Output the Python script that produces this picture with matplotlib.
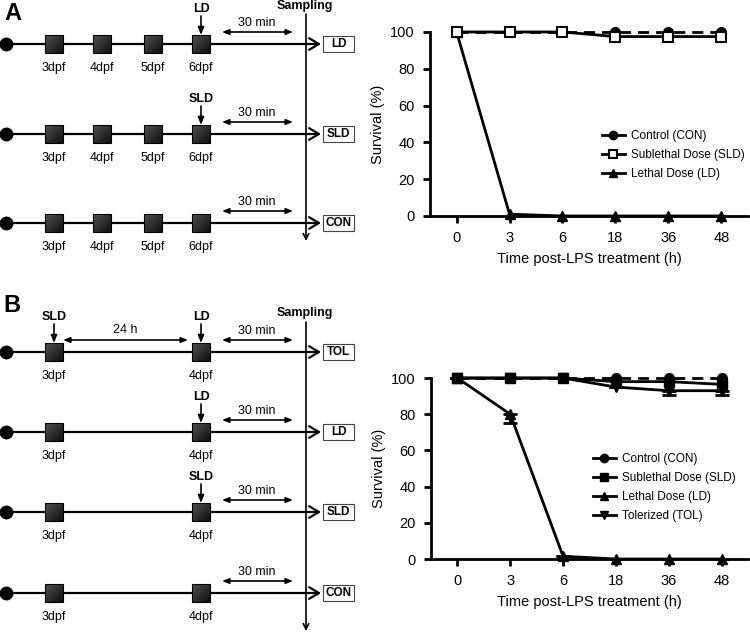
import matplotlib.pyplot as plt
import numpy as np
from matplotlib.patches import Rectangle
from matplotlib.lines import Line2D

plt.rcParams['font.family'] = ['Liberation Sans', 'DejaVu Sans']

# survival curves
temps = ['0', '3', '6', '18', '36', '48']
a_con = [100, 100, 100, 100, 100, 100]
a_sld = [100, 100, 100, 97.5, 97.5, 97.5]
a_ld = [100, 1, 0, 0, 0, 0]

b_con = [100, 100, 100, 100, 100, 100]
b_sld = [100, 100, 100, 98, 98, 96.5]
b_ld = [100, 80, 1.5, 0, 0, 0]
b_ld_err = [0, 5, 0, 0, 0, 0]
b_tol = [100, 100, 100, 95, 93, 93]
b_tol_err = [0, 0, 0, 0, 2.5, 2.5]

# schematic labels
a_jours = ['3dpf', '4dpf', '5dpf', '6dpf']
a_groupes = ['LD', 'SLD', 'CON']
a_doses = ['LD', 'SLD', '']
b_jours = ['3dpf', '4dpf']
b_groupes = ['TOL', 'LD', 'SLD', 'CON']
b_dose1 = ['SLD', '', '', '']
b_dose2 = ['LD', 'LD', 'SLD', '']

fig = plt.figure(figsize=(7.5, 6.33), dpi=100)
sk = fig.add_axes([0, 0, 1, 1])
sk.set_xlim(0, 750)
sk.set_ylim(633, 0)
sk.axis('off')

FS = 9

# shading for the day boxes
g = np.linspace(0, 1, 20)
degrade = 0.32 - 0.26 * (g[None, :] + g[:, None]) / 2


def fleche(x0, y0, x1, y1, style, ms=10, lw=1.2):
    sk.annotate('', xy=(x1, y1), xytext=(x0, y0),
                arrowprops=dict(arrowstyle=style, lw=lw, color='k',
                                shrinkA=0, shrinkB=0, mutation_scale=ms))


def ligne(y, xs, jours, doses, groupe, intervalle=None):
    fleche(6, y, 321, y, '->,head_length=0.5,head_width=0.3', ms=14, lw=1.6)
    sk.plot([6], [y], 'o', color='k', ms=9)
    for x, j, d in zip(xs, jours, doses):
        sk.imshow(degrade, cmap='gray', vmin=0, vmax=1, extent=(x - 9, x + 9, y + 9, y - 9),
                  zorder=3, interpolation='bilinear')
        sk.add_patch(Rectangle((x - 9, y - 9), 18, 18, fc='none', ec='k', lw=0.8, zorder=4))
        sk.text(x, y + 24, j, ha='center', va='center', fontsize=FS)
        if d:
            sk.text(x, y - 35, d, ha='center', va='center', fontsize=FS, fontweight='bold')
            fleche(x, y - 28, x, y - 9, '-|>,head_length=0.5,head_width=0.2', ms=9)
    if intervalle:
        sk.text(125, y - 22, intervalle, ha='center', va='center', fontsize=FS)
        fleche(63, y - 12, 188, y - 12, '<|-|>,head_length=0.5,head_width=0.2', ms=8)
    sk.text(257, y - 21, '30 min', ha='center', va='center', fontsize=FS)
    fleche(222, y - 12, 293, y - 12, '<|-|>,head_length=0.5,head_width=0.2', ms=8)
    sk.add_patch(Rectangle((323, y - 8), 31, 16, fc='white', ec='#444444', lw=0.8))
    sk.text(338.5, y, groupe, ha='center', va='center', fontsize=8.5, fontweight='bold')


# panel A schematic
sk.text(13, 14, 'A', ha='center', va='center', fontsize=17, fontweight='bold')
sk.text(305, 6, 'Sampling', ha='center', va='center', fontsize=9, fontweight='bold')
fleche(306, 14, 306, 241, '->,head_length=0.4,head_width=0.2', ms=10)
for y, gr, d in zip([44, 134, 223], a_groupes, a_doses):
    ligne(y, [54, 102, 153, 201], a_jours, ['', '', '', d], gr)

# panel B schematic
sk.text(12, 305, 'B', ha='center', va='center', fontsize=17, fontweight='bold')
sk.text(305, 313, 'Sampling', ha='center', va='center', fontsize=9, fontweight='bold')
fleche(306, 322, 306, 631, '->,head_length=0.4,head_width=0.2', ms=10)
for i, (y, gr) in enumerate(zip([352, 432, 512, 593], b_groupes)):
    ligne(y, [54, 201], b_jours, [b_dose1[i], b_dose2[i]], gr,
          intervalle='24 h' if b_dose1[i] else None)

sk.set_xlim(0, 750)
sk.set_ylim(633, 0)
sk.set_aspect('auto')


def styliser(ax):
    ax.set_xlim(-0.5, 5.5)
    ax.set_ylim(0, 100)
    ax.set_xticks(range(len(temps)))
    ax.set_xticklabels(temps)
    ax.set_yticks([0, 20, 40, 60, 80, 100])
    for s in ['top', 'right']:
        ax.spines[s].set_visible(False)
    for s in ['left', 'bottom']:
        ax.spines[s].set_linewidth(2)
    ax.tick_params(width=2, length=5, labelsize=10.5, pad=6)
    ax.set_ylabel('Survival (%)', fontsize=10.5, labelpad=4)
    ax.set_xlabel('Time post-LPS treatment (h)', fontsize=10.5, labelpad=5)


x = list(range(len(temps)))
kw = dict(color='k', lw=2, ms=7, clip_on=False)

# panel A plot
axA = fig.add_axes([0.5735, 0.6588, 0.4235, 0.2907])
axA.plot(x, a_ld, marker='^', **kw)
axA.plot(x, a_con, marker='o', ls='--', dashes=(4, 2.5), **kw)
axA.plot(x, a_sld, marker='s', mfc='white', mew=1.5, **kw)
styliser(axA)
hA = [Line2D([], [], color='k', lw=2, marker='o', ms=6),
      Line2D([], [], color='k', lw=2, marker='s', ms=6, mfc='white', mew=1.5),
      Line2D([], [], color='k', lw=2, marker='^', ms=6)]
axA.legend(hA, ['Control (CON)', 'Sublethal Dose (SLD)', 'Lethal Dose (LD)'],
           loc='center left', bbox_to_anchor=(0.54, 0.33), frameon=False,
           fontsize=8.5, handlelength=2.0, handletextpad=0.5, labelspacing=0.6,
           borderaxespad=0, borderpad=0)

# panel B plot
axB = fig.add_axes([0.5747, 0.1169, 0.4226, 0.2859])
axB.errorbar(x, b_ld, yerr=[b_ld_err, [0] * 6], marker='^', capsize=5, capthick=2, elinewidth=2, **kw)
axB.errorbar(x, b_tol, yerr=[b_tol_err, [0] * 6], marker='v', capsize=5, capthick=2, elinewidth=2, **kw)
axB.plot(x, b_con, marker='o', ls='--', dashes=(4, 2.5), **kw)
axB.plot(x, b_sld, marker='s', **kw)
styliser(axB)
hB = [Line2D([], [], color='k', lw=2, marker='o', ms=6),
      Line2D([], [], color='k', lw=2, marker='s', ms=6),
      Line2D([], [], color='k', lw=2, marker='^', ms=6),
      Line2D([], [], color='k', lw=2, marker='v', ms=6)]
axB.legend(hB, ['Control (CON)', 'Sublethal Dose (SLD)', 'Lethal Dose (LD)', 'Tolerized (TOL)'],
           loc='center left', bbox_to_anchor=(0.51, 0.395), frameon=False,
           fontsize=8.5, handlelength=2.0, handletextpad=0.5, labelspacing=0.6,
           borderaxespad=0, borderpad=0)

fig.savefig('out.png', dpi=100)
